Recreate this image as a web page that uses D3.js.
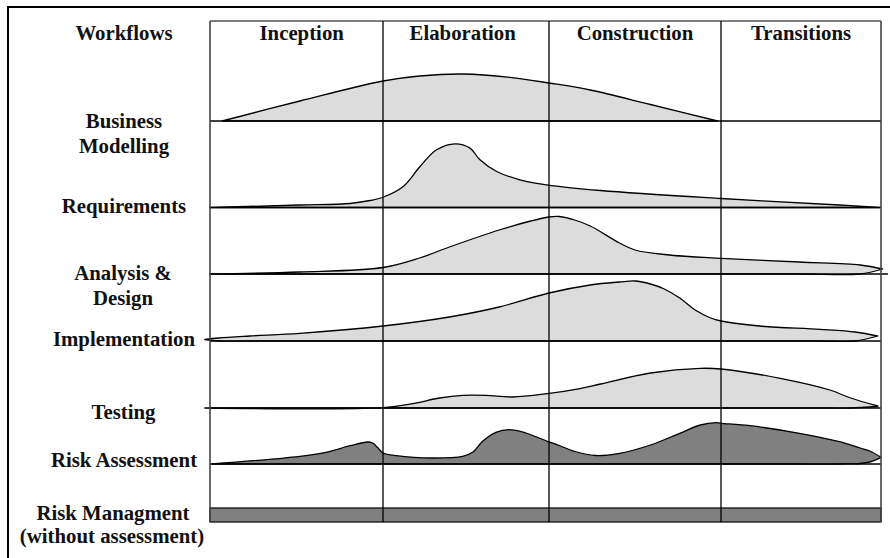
<!DOCTYPE html>
<html>
<head>
<meta charset="utf-8">
<script src="https://cdn.jsdelivr.net/npm/d3@7"></script>
<style>
  body { margin: 0; background: #fff; }
  text { font-family: "Liberation Serif", "Times New Roman", serif; font-weight: bold; font-size: 20.8px; fill: #111; }
</style>
</head>
<body>
<script>
// phases across the top, workflows down the side
var phases = ["Inception", "Elaboration", "Construction", "Transitions"];
var workflows = ["Business Modelling", "Requirements", "Analysis & Design", "Implementation",
                 "Testing", "Risk Assessment", "Risk Managment (without assessment)"];
var labelLines = [["Business", "Modelling"], ["Requirements"], ["Analysis &", "Design"], ["Implementation"],
                  ["Testing"], ["Risk Assessment"], ["Risk Managment", "(without assessment)"]];

// effort curves: [phase position, top, bottom] (bottom > 0 only at the tapered tips)
var businessModelling = [[0.07,0,0],[0.52,20,0],[1.0,40,0],[1.22,45,0],[1.48,47,0],[1.765,43.7,0],
                         [2.0,38,0],[2.24,31,0],[2.59,16.5,0],[2.98,0,0]];
var requirements = [[0.0,0,0],[0.52,2.5,0],[0.81,4,0],[0.925,7,0],[0.996,10,0],[1.122,21,0],[1.223,41,0],
                    [1.323,57.7,0],[1.434,63.7,0],[1.524,59.4,0],[1.584,47.7,0],[1.685,36,0],[1.825,27.7,0],
                    [1.986,22.7,0],[2.30,17,0],[3.0,9,0],[3.74,2.5,0],[3.99,0,0]];
var analysisDesign = [[0.0,0,0],[0.52,2,0],[1.0,6.5,0],[1.22,16,0],[1.40,27,0],[1.70,44,0],[1.89,53,0],
                      [2.0,57,0],[2.06,57.5,0],[2.15,54,0],[2.24,48,0],[2.41,31,0],[2.5,24,0],[2.70,19,0],
                      [3.0,15.7,0],[3.49,12,0],[3.87,9,0],[4.01,5,5]];
var implementation = [[-0.03,1.5,1.5],[0.05,3,0],[0.23,5,0],[0.52,7.7,0],[1.0,15,0],[1.40,24,0],[1.70,34,0],
                      [2.0,48,0],[2.24,56,0],[2.41,59,0],[2.5,60,0],[2.59,57,0],[2.67,52,0],[2.76,43,0],
                      [2.85,31,0],[2.94,23,0],[3.0,20,0],[3.24,15,0],[3.62,11.7,0],[3.84,9,0],[3.98,5,5]];
var testing = [[-0.03,0,0],[1.0,0.4,0],[1.18,4.4,0],[1.34,10,0],[1.48,12.7,0],[1.62,12.7,0],[1.78,11,0],
               [1.99,14.4,0],[2.18,19.4,0],[2.30,24,0],[2.59,35,0],[2.88,39.7,0],[3.0,39,0],[3.37,29.7,0],
               [3.68,18,0],[3.81,10,0],[3.98,2,1.5]];
var riskAssessment = [[0.01,0,0],[0.52,7.7,0],[0.67,11.7,0],[0.81,18.3,0],[0.91,22,0],[0.94,21,0],
                      [0.98,14.3,0],[1.0,11,0],[1.08,8.3,0],[1.30,6,0],[1.48,7.7,0],[1.54,11.7,0],[1.60,22.7,0],
                      [1.68,31.7,0],[1.76,34.3,0],[1.86,31,0],[1.99,22.7,0],[2.06,18.5,0],[2.15,12.5,0],
                      [2.27,8.5,0],[2.41,10.7,0],[2.59,19,0],[2.76,30.7,0],[2.88,39,0],[2.97,41.3,0],[3.0,40.7,0],
                      [3.18,38.3,0],[3.49,30.7,0],[3.74,22.3,0],[3.87,16,0.5],[3.93,13,2],[4.0,6.7,6.7]];
var riskManagement = [0, 4];

var width = 890, height = 558;

var svg = d3.select("body").append("svg")
    .attr("width", width)
    .attr("height", height);

// phase columns are not equal widths
var x = d3.scaleLinear()
    .domain([0, 1, 2, 3, 4])
    .range([210, 383, 549, 721, 881]);

var rowBase = d3.scaleOrdinal()
    .domain(workflows)
    .range([121, 207.5, 274, 341, 408, 464, 522]);

var labelY = d3.scaleOrdinal()
    .domain(workflows)
    .range([128, 213, 280, 346, 419, 467, 520]);

var labelX = d3.scaleOrdinal()
    .domain(workflows)
    .range([124, 124, 123, 124, 123.5, 124, 113]);

var effort = d3.scaleLinear().domain([0, 100]).range([0, 100]);

var curves = [
  { name: workflows[0], data: businessModelling, fill: "#dcdcdc" },
  { name: workflows[1], data: requirements, fill: "#dcdcdc" },
  { name: workflows[2], data: analysisDesign, fill: "#dcdcdc" },
  { name: workflows[3], data: implementation, fill: "#dcdcdc" },
  { name: workflows[4], data: testing, fill: "#dcdcdc" },
  { name: workflows[5], data: riskAssessment, fill: "#808080" }
];

// outer frame
svg.append("rect")
    .attr("x", 8).attr("y", 7)
    .attr("width", 900).attr("height", 600)
    .style("fill", "none")
    .style("stroke", "#000")
    .style("stroke-width", 2);

curves.forEach(function(c) {
  var base = rowBase(c.name);
  var area = d3.area()
      .curve(d3.curveCatmullRom.alpha(0.5))
      .x(function(d) { return x(d[0]); })
      .y0(function(d) { return base - effort(d[2]); })
      .y1(function(d) { return base - effort(d[1]); });
  svg.append("path")
      .datum(c.data)
      .attr("d", area)
      .style("fill", c.fill)
      .style("stroke", "#000")
      .style("stroke-width", 1.3)
      .style("stroke-linejoin", "round");
});

// risk managment bar
svg.append("rect")
    .attr("x", x(riskManagement[0]))
    .attr("y", rowBase(workflows[6]) - 14)
    .attr("width", x(riskManagement[1]) - x(riskManagement[0]))
    .attr("height", 14)
    .style("fill", "#808080")
    .style("stroke", "#111")
    .style("stroke-width", 1.3);

// horizontal row lines
var hLines = [21].concat(workflows.slice(0, 6).map(function(w) { return rowBase(w); }));
svg.selectAll(".hline")
    .data(hLines)
    .enter().append("line")
    .attr("class", "hline")
    .attr("x1", x(0))
    .attr("x2", function(d, i) { return i == 3 ? 888 : x(4); })
    .attr("y1", function(d) { return d; })
    .attr("y2", function(d) { return d; })
    .style("stroke", "#000")
    .style("stroke-width", function(d, i) { return i == 0 ? 1.2 : 1.6; });

// vertical phase lines
svg.selectAll(".vline")
    .data([0, 1, 2, 3, 4])
    .enter().append("line")
    .attr("class", "vline")
    .attr("x1", function(d) { return x(d); })
    .attr("x2", function(d) { return x(d); })
    .attr("y1", 21)
    .attr("y2", rowBase(workflows[6]))
    .style("stroke", function(d) { return (d == 0 || d == 4) ? "#444" : "#000"; })
    .style("stroke-width", function(d) { return (d == 0 || d == 4) ? 1.6 : 1.3; });

// headers
var headerAt = [0.53, 1.48, 2.5, 3.5];
svg.append("text")
    .attr("x", 124).attr("y", 40)
    .attr("text-anchor", "middle")
    .text("Workflows");

svg.selectAll(".phase")
    .data(phases)
    .enter().append("text")
    .attr("class", "phase")
    .attr("x", function(d, i) { return x(headerAt[i]); })
    .attr("y", 40)
    .attr("text-anchor", "middle")
    .text(function(d) { return d; });

// row labels
workflows.forEach(function(w, i) {
  var t = svg.append("text")
      .attr("text-anchor", "middle")
      .attr("y", labelY(w));
  labelLines[i].forEach(function(line, j) {
    t.append("tspan")
        .attr("x", i == 6 && j == 1 ? 112 : labelX(w))
        .attr("dy", j == 0 ? 0 : (i == 6 ? 23 : 25))
        .text(line);
  });
});
</script>
</body>
</html>
